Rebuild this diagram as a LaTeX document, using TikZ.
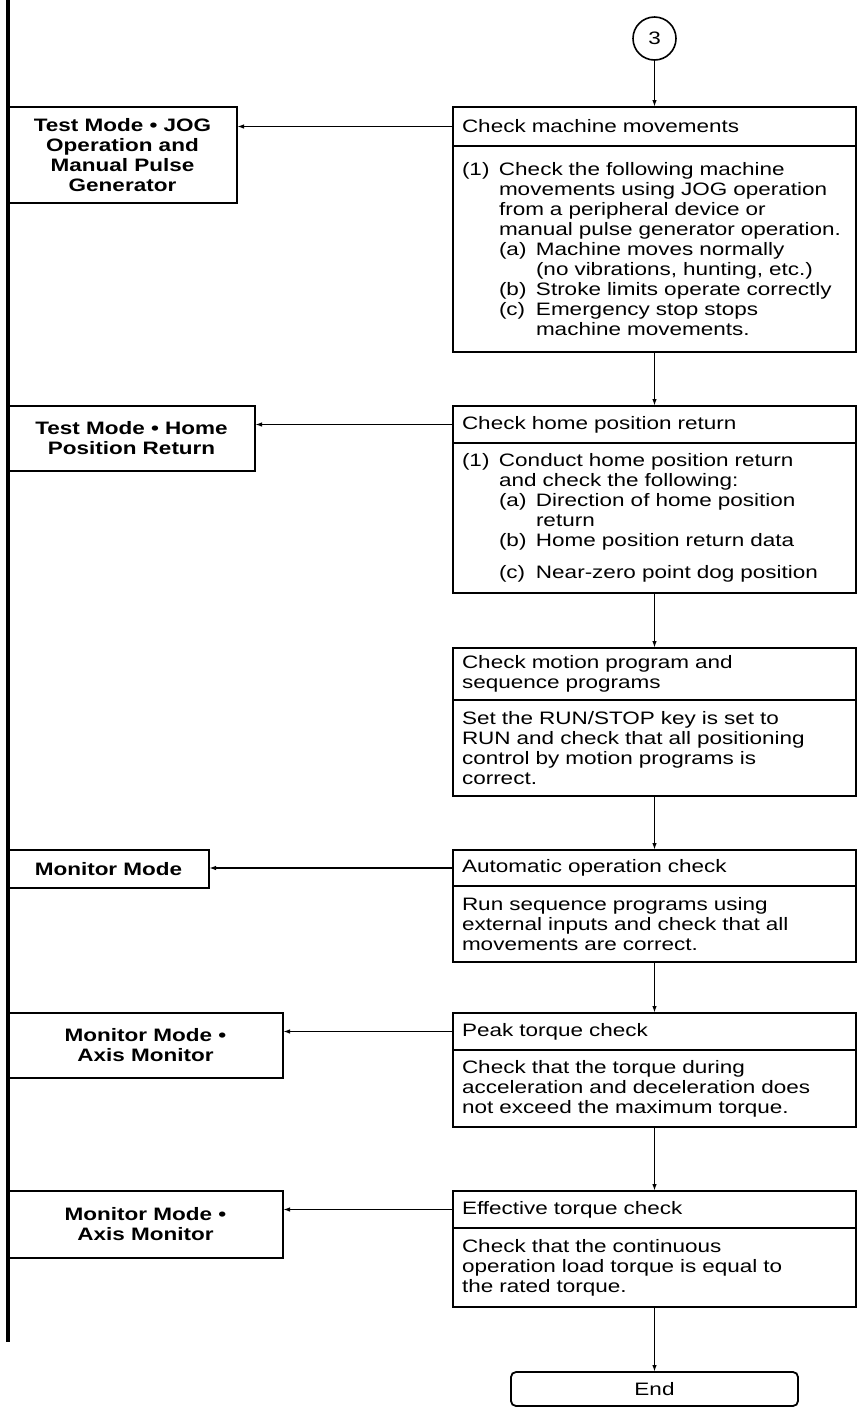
\documentclass[tikz,border=0pt]{standalone}
\usepackage{fontspec}
\setmainfont[FakeStretch=1.25]{Liberation Sans}
\usepackage{tikz}
\usetikzlibrary{arrows.meta, positioning}
\newcommand{\lbl}[1]{\makebox[37pt][l]{#1}}
\newcommand{\sk}{\hspace*{37pt}}

\begin{document}
\begin{tikzpicture}[
        x=1pt, y=-1pt,
        head/.style={draw, line width=1.8pt, text width=385pt, outer sep=0pt,
                     inner xsep=9pt, inner ysep=0pt, align=left,
                     font=\fontsize{18pt}{20pt}\selectfont},
        body/.style={head},
        mode/.style={draw, line width=2.6pt, inner sep=0pt, outer sep=0pt,
                     align=center,
                     font=\fontsize{18pt}{20pt}\selectfont\bfseries},
        conn/.style={draw, circle, line width=1.6pt, minimum size=43pt,
                     inner sep=0pt, outer sep=0pt,
                     font=\fontsize{18pt}{20pt}\selectfont},
        endbox/.style={draw, rounded corners=5pt, line width=1.8pt,
                       minimum width=287pt, minimum height=34pt, outer sep=0pt,
                       font=\fontsize{18pt}{20pt}\selectfont},
        arr/.style={-{Latex[length=7pt, width=4.5pt]}, line width=1.5pt},
        rail/.style={line width=3.5pt},
      ]
        \useasboundingbox (0,0) rectangle (858,1409);
        % mode rail on the left
        \coordinate (railtop) at (8,0);
        \coordinate (railend) at (8,1342);
        \draw[rail] (railtop) -- (railend);

        % check steps
        \node[head, minimum height=39pt, anchor=north west] (h1) at (453,107)
          {Check machine movements};
        \node[body, minimum height=206pt, below=0pt of h1] (b1)
          {\lbl{(1)}Check the following machine\\
           \sk movements using JOG operation\\
           \sk from a peripheral device or\\
           \sk manual pulse generator operation.\\
           \sk\lbl{(a)}Machine moves normally\\
           \sk\sk (no vibrations, hunting, etc.)\\
           \sk\lbl{(b)}Stroke limits operate correctly\\
           \sk\lbl{(c)}Emergency stop stops\\
           \sk\sk machine movements.};
        \node[conn, above=47pt of h1] (c3) {3};

        \node[head, minimum height=37pt, below=54pt of b1] (h2)
          {Check home position return};
        \node[body, minimum height=150pt, below=0pt of h2] (b2)
          {\lbl{(1)}Conduct home position return\\
           \sk and check the following:\\
           \sk\lbl{(a)}Direction of home position\\
           \sk\sk return\\
           \sk\lbl{(b)}Home position return data\\[12pt]
           \sk\lbl{(c)}Near-zero point dog position};

        \node[head, minimum height=52pt, below=55pt of b2] (h3)
          {Check motion program and\\sequence programs};
        \node[body, minimum height=96pt, below=0pt of h3] (b3)
          {Set the RUN/STOP key is set to\\
           RUN and check that all positioning\\
           control by motion programs is\\
           correct.};

        \node[head, minimum height=36pt, below=54pt of b3] (h4)
          {Automatic operation check};
        \node[body, minimum height=76pt, below=0pt of h4] (b4)
          {Run sequence programs using\\
           external inputs and check that all\\
           movements are correct.};

        \node[head, minimum height=37pt, below=51pt of b4] (h5)
          {Peak torque check};
        \node[body, minimum height=77pt, below=0pt of h5] (b5)
          {Check that the torque during\\
           acceleration and deceleration does\\
           not exceed the maximum torque.};

        \node[head, minimum height=37pt, below=64pt of b5] (h6)
          {Effective torque check};
        \node[body, minimum height=79pt, below=0pt of h6] (b6)
          {Check that the continuous\\
           operation load torque is equal to\\
           the rated torque.};

        \node[endbox, below=65pt of b6] (end) {End};

        % modes used for each check
        \node[mode, minimum width=229pt, minimum height=96pt,
              anchor=north west] (m1) at (railtop |- h1.north)
          {Test Mode • JOG\\Operation and\\Manual Pulse\\Generator};
        \node[mode, minimum width=247pt, minimum height=65pt,
              anchor=north west] (m2) at (railtop |- h2.north)
          {Test Mode • Home\\Position Return};
        \node[mode, minimum width=201pt, minimum height=38pt,
              anchor=north west] (m3) at (railtop |- h4.north)
          {Monitor Mode};
        \node[mode, minimum width=275pt, minimum height=65pt,
              anchor=north west] (m4) at (railtop |- h5.north)
          {Monitor Mode •\\Axis Monitor};
        \node[mode, minimum width=275pt, minimum height=67pt,
              anchor=north west] (m5) at (railtop |- h6.north)
          {Monitor Mode •\\Axis Monitor};

        \draw[arr] (c3) -- (h1);
        \draw[arr] (b1) -- (h2);
        \draw[arr] (b2) -- (h3);
        \draw[arr] (b3) -- (h4);
        \draw[arr] (b4) -- (h5);
        \draw[arr] (b5) -- (h6);
        \draw[arr] (b6) -- (end);

        \draw[arr] (h1.west) -- (h1.west -| m1.east);
        \draw[arr] (h2.west) -- (h2.west -| m2.east);
        \draw[arr] (h4.west) -- (h4.west -| m3.east);
        \draw[arr] (h5.west) -- (h5.west -| m4.east);
        \draw[arr] (h6.west) -- (h6.west -| m5.east);
      \end{tikzpicture}
\end{document}
